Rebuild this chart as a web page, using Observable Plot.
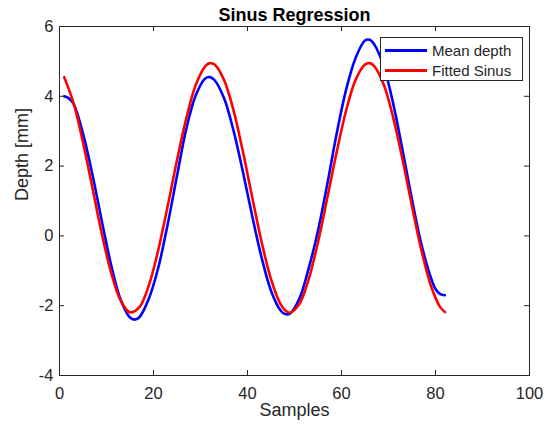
<!DOCTYPE html>
<html>
<head>
<meta charset="utf-8">
<script src="https://cdn.jsdelivr.net/npm/d3@7"></script>
<script src="https://cdn.jsdelivr.net/npm/@observablehq/plot@0.6"></script>
<style>
  body { margin: 0; background: #fff; }
  #wrap { position: relative; width: 548px; height: 430px; background: #fff; }
  #wrap svg { position: absolute; left: 0; top: 0; }
  .legend { position: absolute; left: 380px; top: 37px; width: 143px; height: 44px; box-sizing: border-box;
            border: 1px solid #262626; background: #fff; font: 15px "Liberation Sans", Arial, sans-serif; color: #262626; }
  .row { position: absolute; left: 0; height: 19px; display: flex; align-items: center; white-space: nowrap; }
  .sw { display: inline-block; width: 42px; height: 3px; margin-left: 4px; margin-right: 5px; }
</style>
</head>
<body>
<div id="wrap"></div>
<script>
// ---- data ----
const titleText = "Sinus Regression";
const xLabel = "Samples";
const yLabel = "Depth [mm]";
const seriesNames = ["Mean depth", "Fitted Sinus"];
const seriesColors = ["#0000ff", "#ff0000"];

const xTicks = [0, 20, 40, 60, 80, 100];
const yTicks = [-4, -2, 0, 2, 4, 6];

const meanSamples = [1, 2, 3, 5, 7, 9, 11, 13, 15, 16, 17, 19, 21, 23, 25, 27, 29, 31, 32, 33, 35, 37, 39, 41, 43, 45, 47, 48, 49,
  51, 53, 55, 57, 59, 61, 63, 65, 66, 67, 69, 71, 73, 75, 77, 79, 80, 81, 82];
const meanDepth = [4.00, 3.94, 3.78, 2.93, 1.76, 0.43, -0.84, -1.82, -2.34, -2.40, -2.33, -1.80, -0.92, 0.32, 1.72, 3.08, 4.03, 4.51, 4.55, 4.46,
  3.95, 3.03, 1.85, 0.57, -0.62, -1.57, -2.13, -2.24, -2.23, -1.81, -0.94, 0.15, 1.50, 2.95, 4.20, 5.10, 5.60, 5.62, 5.48,
  4.85, 3.79, 2.45, 1.04, -0.24, -1.19, -1.52, -1.67, -1.70];

const fitSamples = [1, 3, 5, 7, 9, 11, 13, 15, 17, 19, 21, 23, 25, 27, 29, 31, 32, 33, 35, 37, 39, 41, 43, 45, 47, 48, 49,
  51, 53, 55, 57, 59, 61, 63, 65, 66, 67, 69, 71, 73, 75, 77, 79, 81, 82];
const fittedSinus = [4.55, 3.80, 2.68, 1.38, 0.06, -1.06, -1.85, -2.19, -2.04, -1.42, -0.41, 0.84, 2.17, 3.38, 4.33, 4.86, 4.95, 4.91,
  4.47, 3.61, 2.43, 1.11, -0.17, -1.24, -1.95, -2.13, -2.20, -1.96, -1.25, -0.18, 1.10, 2.42, 3.60, 4.47, 4.91, 4.95, 4.86,
  4.33, 3.39, 2.18, 0.85, -0.41, -1.42, -2.04, -2.18];

// ---- tables built from the arrays ----
const meanRows = meanSamples.map((s, i) => ({x: s, y: meanDepth[i]}));
const fitRows = fitSamples.map((s, i) => ({x: s, y: fittedSinus[i]}));

const W = 548, H = 430;
const mTop = 26, mRight = 19, mBottom = 55, mLeft = 59;
const frameW = W - mLeft - mRight, frameH = H - mTop - mBottom;
const tickLen = 5;
const axisColor = "#262626";
const fmt = d => String(d);

const chart = Plot.plot({
  width: W,
  height: H,
  marginTop: mTop,
  marginRight: mRight,
  marginBottom: mBottom,
  marginLeft: mLeft,
  style: {fontFamily: '"Liberation Sans", Arial, sans-serif', fontSize: "16.5px", color: "#262626", background: "white"},
  x: {domain: [0, 100]},
  y: {domain: [-4, 6]},
  marks: [
    Plot.line(meanRows, {x: "x", y: "y", stroke: seriesColors[0], strokeWidth: 2.6, curve: "catmull-rom"}),
    Plot.line(fitRows, {x: "x", y: "y", stroke: seriesColors[1], strokeWidth: 2.6, curve: "catmull-rom"}),
    Plot.frame({stroke: axisColor, strokeWidth: 1}),
    Plot.tickX(xTicks, {x: d => d, insetTop: frameH - tickLen, stroke: axisColor}),
    Plot.tickX(xTicks, {x: d => d, insetBottom: frameH - tickLen, stroke: axisColor}),
    Plot.tickY(yTicks, {y: d => d, insetRight: frameW - tickLen, stroke: axisColor}),
    Plot.tickY(yTicks, {y: d => d, insetLeft: frameW - tickLen, stroke: axisColor}),
    Plot.axisX({ticks: xTicks, tickFormat: fmt, tickSize: 0, tickPadding: 12, label: null, fill: "#262626"}),
    Plot.axisY({ticks: yTicks, tickFormat: fmt, tickSize: 0, tickPadding: 6, label: null, fill: "#262626"}),
    Plot.text([xLabel], {frameAnchor: "bottom", dy: 35, lineAnchor: "middle", fontSize: 18, fill: "#262626"}),
    Plot.text([yLabel], {frameAnchor: "left", dx: -37, rotate: -90, lineAnchor: "middle", fontSize: 18, fill: "#262626"}),
    Plot.text([titleText], {frameAnchor: "top", dy: -11, lineAnchor: "middle", fontSize: 18, fontWeight: "bold", fill: "black"})
  ]
});

const wrap = document.getElementById("wrap");
wrap.appendChild(chart);

const legend = document.createElement("div");
legend.className = "legend";
seriesNames.forEach((name, i) => {
  const row = document.createElement("div");
  row.className = "row";
  row.style.top = (i === 0 ? 3 : 22.5) + "px";
  const sw = document.createElement("span");
  sw.className = "sw";
  sw.style.background = seriesColors[i];
  const label = document.createElement("span");
  label.textContent = name;
  row.appendChild(sw);
  row.appendChild(label);
  legend.appendChild(row);
});
wrap.appendChild(legend);
</script>
</body>
</html>
